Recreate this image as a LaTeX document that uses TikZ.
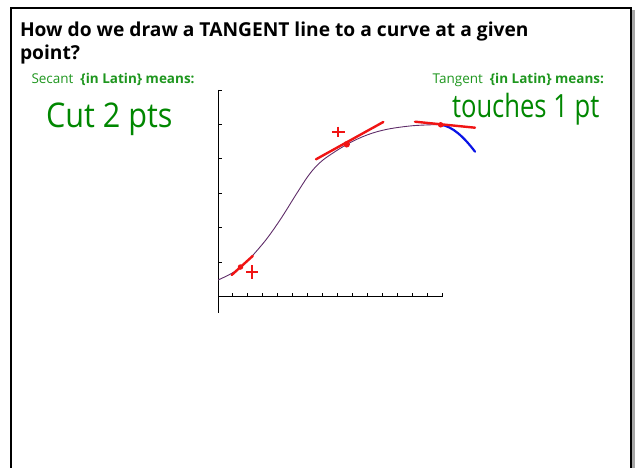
\documentclass[tikz,border=0pt]{standalone}
\usepackage{fontspec}
\setmainfont{Open Sans}
\usetikzlibrary{positioning}
\definecolor{labelgreen}{RGB}{30,150,30}
\definecolor{inkgreen}{RGB}{0,135,0}
\definecolor{curvepurple}{RGB}{95,45,105}
\definecolor{inkred}{RGB}{240,20,20}
\definecolor{inkblue}{RGB}{10,20,230}

\begin{document}
\begin{tikzpicture}[x=1pt, y=-1pt,
  every node/.style={inner sep=0pt, outer sep=0pt},
  heading/.style={font=\bfseries\fontsize{19.2}{23}\selectfont, anchor=base west, align=left},
  latin/.style={font=\fontsize{13.5}{15}\selectfont, text=labelgreen, anchor=base west},
  ink/.style={font=\fontsize{34}{36}\selectfont, text=inkgreen, anchor=base west},
  axis/.style={black, line width=0.9pt},
  pen/.style={inkred, line width=2.4pt, line cap=round},
  cross/.style={inkred, line width=2pt},
  dot/.style={circle, fill=inkred, minimum size=5.5pt}
]
\useasboundingbox (0,0) rectangle (637,468);
% Frame
\draw[gray!70, line width=2.5pt] (633.5,10) -- (633.5,468);
\draw[line width=2pt] (11,468) -- (11,8) -- (631,8) -- (631,468);
% Question and the two definitions
\node[heading] (question) at (20,60) {How do we draw a TANGENT line to a curve at a given\\point?};
\node[latin] (secant) at (31.5,84) {Secant\ \ \textbf{\{in Latin\} means:}};
\node[latin, anchor=base east] (tangent) at (604,84) {Tangent\ \ \textbf{\{in Latin\} means:}};
\node[ink] (cut) at (46,128) {\scalebox{0.9}[1]{Cut 2 pts}};
\node[ink, font=\fontsize{32}{34}\selectfont] (touches) at (452,118) {\scalebox{0.8}[1]{touches 1 pt}};
% Axes with ticks
\coordinate (origin) at (218,296.7);
\draw[axis] (218,90) -- (218,312.7);
\draw[axis] (origin) -- (441.9,296.7);
\foreach \k in {1,...,15} \draw[axis] (218+14.93*\k,296.7) -- ++(0,-4);
\foreach \k in {1,...,6} \draw[axis] (218,296.7-34.45*\k) -- ++(4,0);
% The curve
\draw[curvepurple, line width=0.9pt] plot[smooth, tension=0.55] coordinates {(218,280) (240,268) (263,243.5) (280,220) (297,193) (310,173.5) (323,160) (346.7,144.5) (367,135) (387,129.3) (413,125.7) (440.7,124.5)};
% Points of contact
\coordinate (low) at (240.5,267);
\coordinate (mid) at (346.7,144.3);
\coordinate (top) at (440.7,124.8);
\draw[inkblue, line width=2.2pt, line cap=round] (top) .. controls (452,126) and (464,137) .. (475,151.7);
% Tangent lines
\draw[pen] (231.7,275) -- (252.7,256);
\draw[pen] (316,159.3) -- (383.3,122);
\draw[pen] (415,121.7) -- (475,127.7);
\node[dot] (lowdot) at (low) {};
\node[dot, minimum size=6.5pt] (middot) at (mid) {};
\node[dot] (topdot) at (top) {};
% Plus marks
\draw[cross] (252,272) ++(-6,0) -- ++(12,0) (252,272) ++(0,-7) -- ++(0,14);
\draw[cross] (338.3,131.7) ++(-6.5,0) -- ++(13,0) (338.3,131.7) ++(0,-5) -- ++(0,10);
\end{tikzpicture}
\end{document}
